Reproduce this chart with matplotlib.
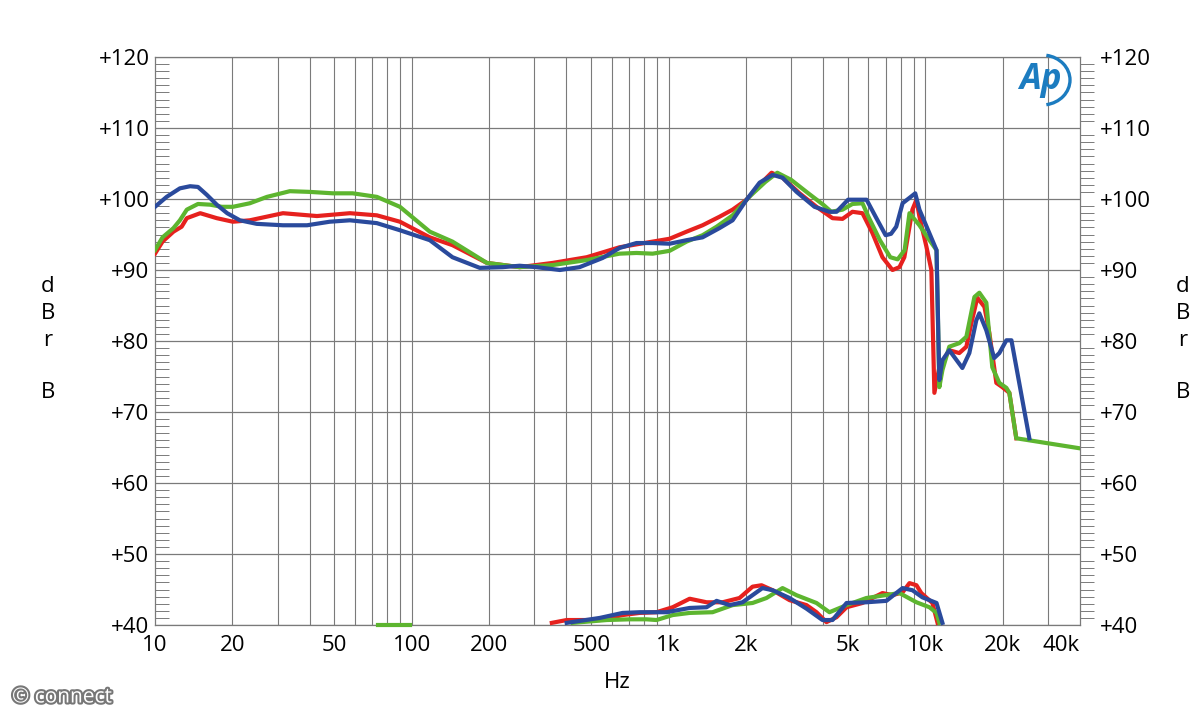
import matplotlib
matplotlib.use('Agg')
import matplotlib.pyplot as plt
from matplotlib.ticker import FixedLocator, NullFormatter
from matplotlib.patches import Arc
import matplotlib.patheffects as pe

plt.rcParams['font.family'] = ['Open Sans', 'DejaVu Sans']

# frequency response curves (Hz, dB)
red_f = [10, 10.7, 11.8, 12.7, 13.3, 15, 17.4, 20.1, 23.4, 31.5, 42.7, 57.4, 73.1, 89.9, 117.5,
         144, 196, 263, 354, 480, 644, 867, 1009, 1175, 1356, 1578, 1775, 2012, 2261, 2517,
         2778, 3236, 3767, 4348, 4755, 5200, 5688, 6220, 6804, 7443, 7925, 8280, 8900, 9230,
         9480, 10090, 10550, 10840, 11330, 12390, 13550, 14440, 15100, 15930, 16980, 17750,
         18890, 19940, 21230, 22590]
red_db = [92.3, 94.0, 95.4, 96.1, 97.3, 98.0, 97.3, 96.8, 97.0, 98.0, 97.6, 98.0, 97.7, 96.8, 94.6,
          93.5, 91.0, 90.4, 91.0, 91.8, 93.2, 94.0, 94.4, 95.4, 96.3, 97.5, 98.5, 99.9, 102.0, 103.7,
          103.0, 100.8, 98.9, 97.3, 97.2, 98.2, 98.0, 95.2, 91.8, 90.0, 90.4, 91.8, 98.5, 99.9,
          97.5, 93.3, 90.0, 72.7, 76.3, 78.7, 78.3, 79.2, 82.5, 86.1, 84.8, 81.1,
          74.1, 73.5, 72.7, 66.3]

green_f = [10, 10.7, 11.8, 12.5, 13.3, 14.7, 16.4, 18.2, 20.1, 23.4, 27.3, 33.5, 40.1, 49.3, 58.9,
           73.1, 89.9, 117.5, 144, 196, 263, 354, 480, 644, 750, 867, 1009, 1175, 1356, 1538,
           1775, 2060, 2380, 2650, 3000, 3500, 4000, 4300, 4755, 5200, 5688, 6000, 6650, 7300,
           7800, 8300, 8670, 9480, 10190, 11050, 11330, 11650, 12390, 13550, 14440, 15520,
           16220, 17270, 18220, 19410, 20670, 21230, 22590, 39700]
green_db = [92.8, 94.6, 95.9, 97.0, 98.5, 99.3, 99.2, 98.9, 98.9, 99.4, 100.3, 101.1, 101.0, 100.8, 100.8,
            100.3, 98.9, 95.4, 94.0, 91.0, 90.4, 90.7, 91.4, 92.3, 92.4, 92.3, 92.7, 94.0, 94.9, 96.1,
            97.7, 100.3, 102.4, 103.7, 102.7, 100.8, 99.2, 98.2, 98.5, 99.3, 99.4, 97.5, 94.2, 91.8,
            91.5, 92.8, 98.0, 96.3, 94.6, 92.8, 73.5, 75.9, 79.2, 79.7, 80.6, 86.2,
            86.8, 85.4, 76.3, 74.1, 73.4, 72.7, 66.3, 64.9]

blue_f = [10, 11.1, 12.5, 13.7, 14.7, 15.9, 17.4, 19.1, 21.4, 24.9, 31.5, 39.1, 47.9, 57.4, 73.1,
          89.9, 117.5, 144, 184, 226, 263, 306, 377, 450, 554, 644, 750, 867, 1009, 1175, 1356,
          1578, 1775, 2012, 2261, 2540, 2778, 3150, 3700, 4230, 4508, 5000, 5900, 6400, 7000,
          7350, 7700, 8150, 9130, 9480, 11050, 11330, 11650, 12390, 13930, 14830, 15780, 16220,
          17270, 18530, 19410, 20670, 21630, 25400]
blue_db = [98.9, 100.3, 101.5, 101.8, 101.7, 100.6, 99.2, 98.0, 97.0, 96.5, 96.3, 96.3, 96.8, 97.0, 96.6,
           95.6, 94.2, 91.8, 90.3, 90.4, 90.6, 90.4, 90.0, 90.4, 91.7, 93.1, 93.8, 93.8, 93.7, 94.2, 94.6,
           95.9, 97.0, 99.9, 102.3, 103.4, 103.0, 101.0, 98.9, 98.2, 98.2, 99.9, 99.9, 97.5, 94.9,
           95.1, 96.1, 99.4, 100.8, 98.5, 92.8, 74.5, 77.3, 78.7, 76.2, 78.3, 82.9, 83.9,
           81.5, 77.6, 78.3, 80.1, 80.1, 66.3]

# distortion curves at the bottom
red_lo_f = [351, 401, 450, 540, 662, 771, 897, 1037, 1208, 1406, 1622, 1888, 2123, 2301, 2541,
            2958, 3444, 3767, 4118, 4508, 4932, 5688, 6804, 7443, 8150, 8670, 9230, 9640, 10650, 11150]
red_lo_db = [40.3, 40.7, 40.7, 40.7, 41.4, 41.7, 41.8, 42.5, 43.7, 43.2, 43.2, 43.8, 45.4, 45.6, 44.9,
             43.5, 42.8, 41.8, 40.4, 41.1, 42.5, 43.1, 44.5, 44.2, 44.6, 45.9, 45.6, 44.5, 43.1, 40.3]

green_lo_f = [423, 574, 705, 821, 897, 1037, 1208, 1483, 1775, 2123, 2405, 2778, 3148, 3767, 4230,
              4932, 5888, 7925, 9230, 10370, 11050, 11330]
green_lo_db = [40.3, 40.7, 40.8, 40.8, 40.7, 41.4, 41.7, 41.8, 42.8, 43.1, 43.8, 45.2, 44.2, 43.1, 41.8,
               42.8, 43.8, 44.5, 43.2, 42.5, 41.7, 40.3]
green_hit_f = [73.7, 98.2]
green_hit_db = [40.0, 40.0]

blue_lo_f = [401, 540, 662, 771, 981, 1208, 1406, 1538, 1727, 1941, 2320, 2541, 2958, 3444, 3973,
             4348, 4932, 5888, 7047, 8150, 8900, 9730, 11050, 11650]
blue_lo_db = [40.3, 41.0, 41.7, 41.8, 41.8, 42.4, 42.5, 43.4, 42.8, 43.2, 45.2, 44.9, 43.8, 42.3, 40.7,
              40.7, 43.1, 43.2, 43.4, 45.2, 44.9, 43.9, 43.1, 40.3]

x_ticks = [10, 20, 50, 100, 200, 500, 1000, 2000, 5000, 10000, 20000, 40000]
x_labels = ['10', '20', '50', '100', '200', '500', '1k', '2k', '5k', '10k', '20k', '40k']
y_ticks = [40, 50, 60, 70, 80, 90, 100, 110, 120]
y_labels = ['+%d' % v for v in y_ticks]

RED = '#e6211e'
GREEN = '#5db52f'
BLUE = '#2a4a9c'
GRID = '#7a7a7a'

fig = plt.figure(figsize=(12, 7.2), dpi=100)
ax = fig.add_axes([155 / 1200, 95 / 720, 925 / 1200, 568 / 720])
ax2 = ax.twinx()  # right-hand scale

ax.set_xscale('log')
ax.set_xlim(10, 40000)
ax.set_ylim(40, 120)
ax2.set_ylim(40, 120)

# grid
grid_x = [m * 10 ** d for d in range(1, 5) for m in range(1, 10)]
grid_x = [g for g in grid_x if 10 < g < 39000]
for g in grid_x:
    ax.axvline(g, color=GRID, lw=0.8, zorder=1)
for yv in y_ticks:
    ax.axhline(yv, color=GRID, lw=0.9, zorder=1)
for s in ax.spines.values():
    s.set_color(GRID)
    s.set_linewidth(0.9)
for s in ax2.spines.values():
    s.set_visible(False)

lw = 3.0
ax.plot(green_hit_f, green_hit_db, color=GREEN, lw=lw, clip_on=False, zorder=3)
ax.plot(red_lo_f, red_lo_db, color=RED, lw=lw, clip_on=False, zorder=3)
ax.plot(green_lo_f, green_lo_db, color=GREEN, lw=lw, clip_on=False, zorder=3)
ax.plot(blue_lo_f, blue_lo_db, color=BLUE, lw=lw, clip_on=False, zorder=4)
ax.plot(red_f, red_db, color=RED, lw=lw, zorder=3)
ax.plot(green_f, green_db, color=GREEN, lw=lw, zorder=3)
ax.plot(blue_f, blue_db, color=BLUE, lw=lw, zorder=4)

# x ticks
ax.xaxis.set_major_locator(FixedLocator(x_ticks))
ax.set_xticklabels(x_labels, fontsize=16)
ax.xaxis.set_minor_locator(FixedLocator([]))
ax.xaxis.set_minor_formatter(NullFormatter())
ax.tick_params(axis='x', length=0, pad=7)
ax.get_xticklabels()[-1].set_ha('right')

# y ticks: left inward minor ticks, right outward minor ticks
minor_y = [v for v in range(40, 121) if v % 10]
ax.set_yticks(y_ticks)
ax.set_yticklabels(y_labels, fontsize=16)
ax.yaxis.set_minor_locator(FixedLocator(minor_y))
ax.tick_params(axis='y', which='major', length=0, pad=4)
ax.tick_params(axis='y', which='minor', length=10, width=0.7, color=GRID, direction='in')

ax2.set_yticks(y_ticks)
ax2.set_yticklabels(y_labels, fontsize=16)
ax2.yaxis.set_minor_locator(FixedLocator(minor_y))
ax2.tick_params(axis='y', which='major', length=0, pad=14)
ax2.tick_params(axis='y', which='minor', length=10, width=0.7, color=GRID, direction='out')

# axis labels
for i, ch in enumerate(['d', 'B', 'r', '', 'B']):
    yy = 1 - (287 + i * 26.5) / 720
    fig.text(48 / 1200, yy, ch, fontsize=16, ha='center', va='center')
    fig.text(1183 / 1200, yy, ch, fontsize=16, ha='center', va='center')
fig.text(617 / 1200, 1 - 683 / 720, 'Hz', fontsize=16, ha='center', va='center')

# Ap logo
fig.text(1040 / 1200, 1 - 80 / 720, 'Ap', fontsize=25, fontstyle='italic', fontweight='bold',
         color='#1c7cc0', ha='center', va='center')
logo_ax = fig.add_axes([1012 / 1200, 1 - 108 / 720, 64 / 1200, 56 / 720])
logo_ax.set_xlim(0, 64)
logo_ax.set_ylim(0, 56)
logo_ax.axis('off')
logo_ax.add_patch(Arc((30, 28), 56, 50, theta1=-80, theta2=80, color='#1c7cc0', lw=2.4))

# watermark
fig.text(62 / 1200, 1 - 697 / 720, '© connect', fontsize=15, color='white', ha='center', va='center',
         path_effects=[pe.withStroke(linewidth=3, foreground='#777777')])

fig.savefig('out.png', dpi=100, facecolor='white')
